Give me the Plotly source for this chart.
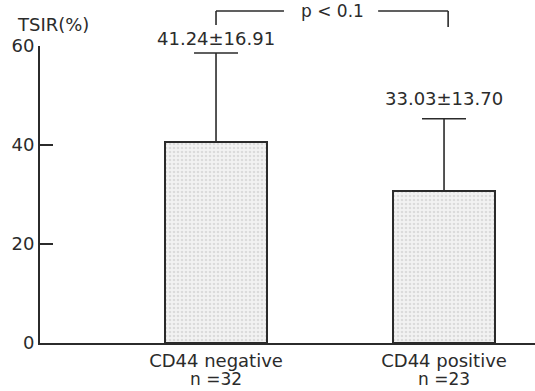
import plotly.graph_objects as go

categories = ["CD44 negative", "CD44 positive"]
n_labels = ["n =32", "n =23"]
means_drawn = [40.6, 30.7]
sd_drawn = [18.0, 14.6]
value_labels = ["41.24±16.91", "33.03±13.70"]
p_label = "p < 0.1"
y_ticks = [0, 20, 40, 60]
y_title = "TSIR(%)"

FONT = "DejaVu Sans"
INK = "#2b2b2b"
x_pos = [0, 1]

fig = go.Figure()
fig.add_trace(go.Bar(
    x=x_pos, y=means_drawn, width=0.447,
    marker=dict(color="#ececec", line=dict(color=INK, width=2),
                pattern=dict(shape=".", size=4, solidity=0.35, fgcolor="#c4c4c4", bgcolor="#f2f2f2")),
    error_y=dict(type="data", symmetric=False, array=sd_drawn, arrayminus=[0, 0],
                 color=INK, thickness=1.6, width=22),
    showlegend=False,
))

# mean ± SD labels anchored at error-bar tops
shifts = [2, 8]
for i in range(2):
    fig.add_annotation(x=x_pos[i], y=means_drawn[i] + sd_drawn[i], xref="x", yref="y",
                       text=value_labels[i], showarrow=False, yanchor="bottom", yshift=shifts[i],
                       font=dict(family=FONT, size=18, color=INK))
    # sample-size labels under category names
    fig.add_annotation(x=x_pos[i], y=-0.121, xref="x", yref="paper",
                       text=n_labels[i], showarrow=False, xanchor="center", yanchor="middle",
                       borderpad=0,
                       font=dict(family=FONT, size=17, color=INK))

# significance bracket
yb = 1.118
fig.add_shape(type="line", xref="x", yref="paper", x0=0, x1=0, y0=1.071, y1=yb, line=dict(color=INK, width=1.6))
fig.add_shape(type="line", xref="x", yref="paper", x0=1.018, x1=1.018, y0=1.064, y1=yb, line=dict(color=INK, width=1.6))
fig.add_shape(type="line", xref="x", yref="paper", x0=0, x1=0.298, y0=yb, y1=yb, line=dict(color=INK, width=1.6))
fig.add_shape(type="line", xref="x", yref="paper", x0=0.711, x1=1.018, y0=yb, y1=yb, line=dict(color=INK, width=1.6))
fig.add_annotation(x=0.509, y=yb, xref="x", yref="paper", text=p_label, showarrow=False,
                   xanchor="center", yanchor="middle",
                   font=dict(family=FONT, size=17, color=INK))

# y-axis title
fig.add_annotation(x=0.026, y=1.071, xref="paper", yref="paper", text=y_title, showarrow=False,
                   xanchor="center", yanchor="middle",
                   font=dict(family=FONT, size=18, color=INK))

fig.update_layout(
    width=535, height=391,
    margin=dict(l=40, r=0, t=46, b=48, autoexpand=False),
    plot_bgcolor="white", paper_bgcolor="white",
    bargap=0,
)
fig.update_xaxes(
    range=[-0.772, 1.399], tickvals=x_pos, automargin=False, ticklabelstandoff=0,
    ticktext=categories,
    showline=True, linecolor=INK, linewidth=2, ticks="", showgrid=False, zeroline=False,
    tickfont=dict(family=FONT, size=18, color=INK),
)
fig.update_yaxes(
    range=[0, 60], tickvals=y_ticks, automargin=False,
    showline=True, linecolor=INK, linewidth=2, ticks="inside", ticklen=13, tickwidth=1.6,
    tickcolor=INK, showgrid=False, zeroline=False,
    tickfont=dict(family=FONT, size=18, color=INK),
)

fig.write_html("out.html")
